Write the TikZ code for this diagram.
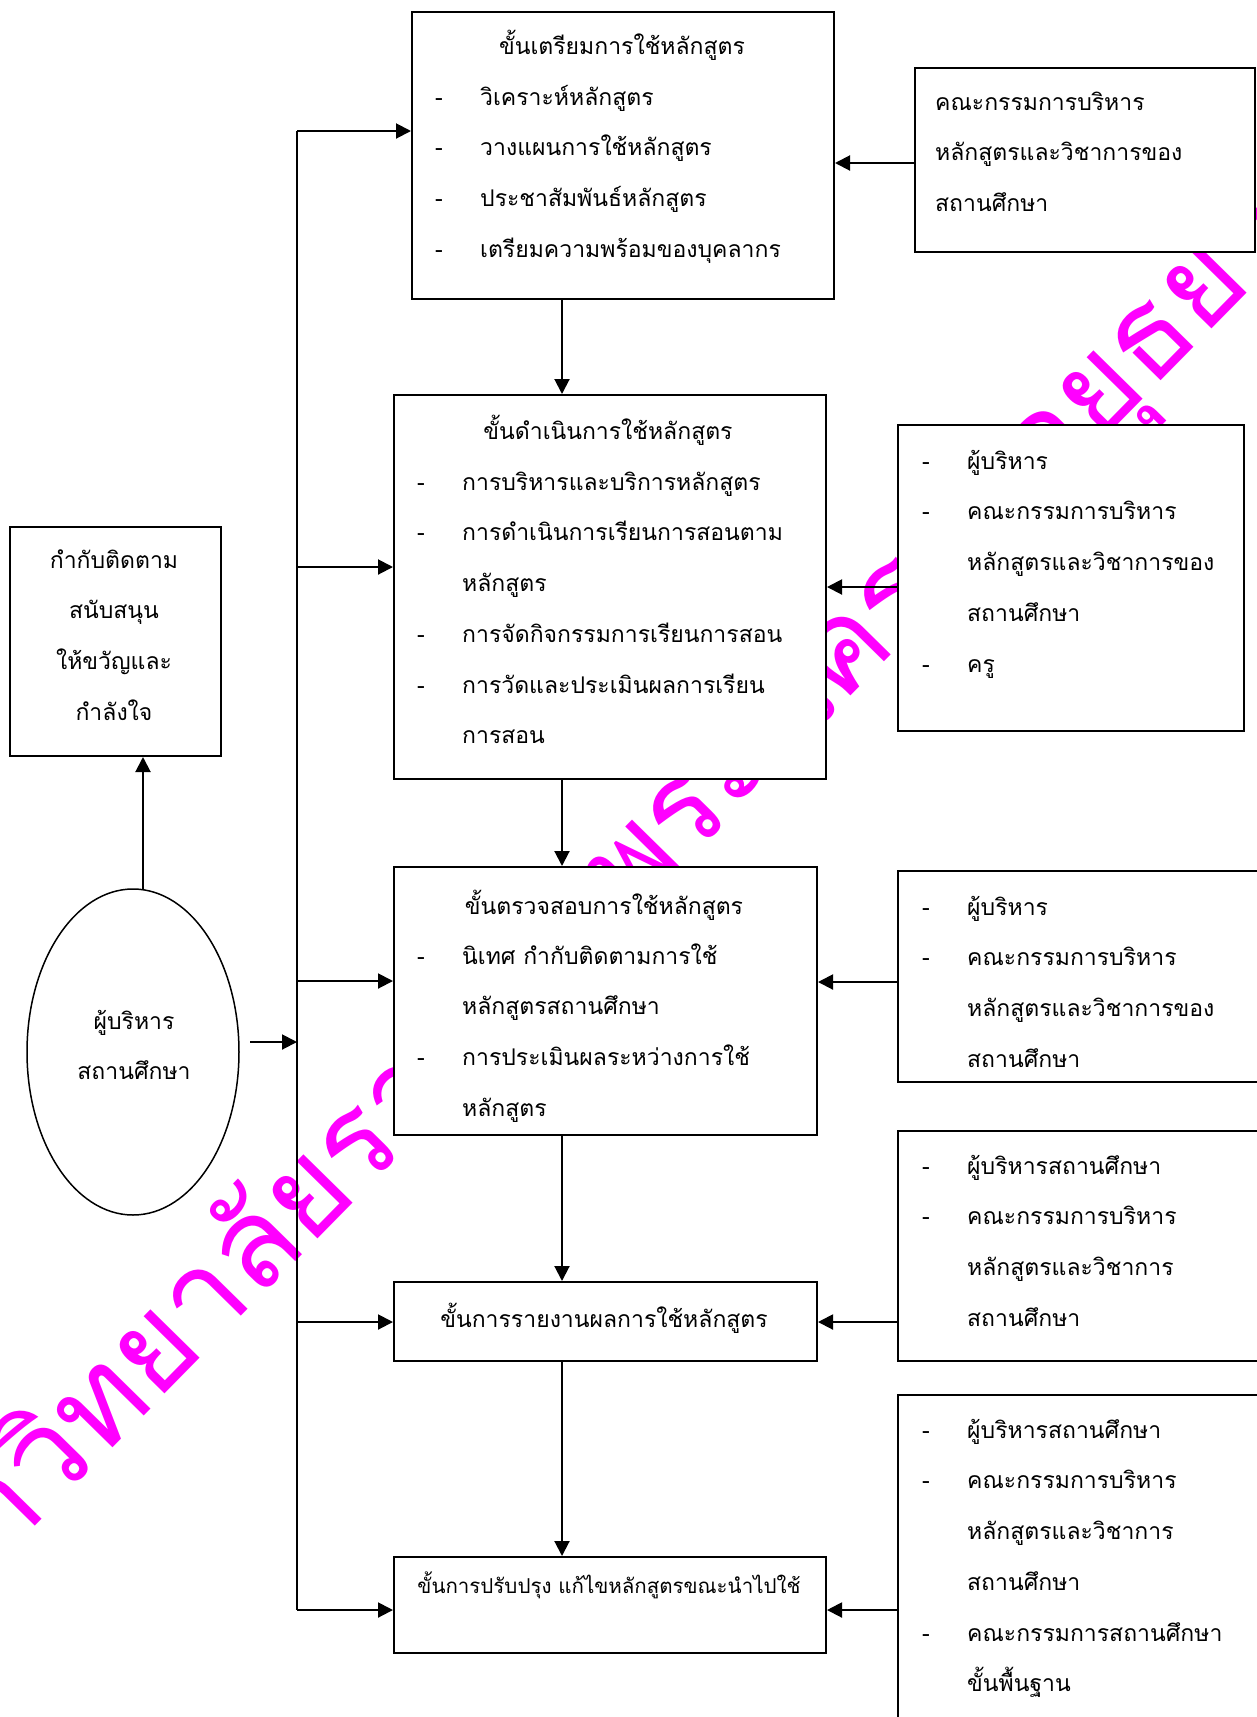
\documentclass[tikz,border=0pt]{standalone}
\usepackage{fontspec}
\newfontfamily\thai[Script=Thai]{Loma}
\usetikzlibrary{arrows.meta,shapes.geometric,calc}
\newcommand\D{\makebox[45pt][l]{-}}
\newcommand\I{\hspace*{45pt}}
\newcommand\st{\rule[-14pt]{0pt}{50pt}}
\tikzset{
  box/.style={draw, line width=2pt, fill=white, inner sep=0pt, anchor=north west},
  conn/.style={line width=2pt, -{Triangle[length=15pt,width=15pt]}},
  plain/.style={line width=2pt},
  txt/.style={font=\thai\fontsize{23}{50.7}\selectfont, inner sep=0pt, align=left, anchor=north west},
  ctxt/.style={font=\thai\fontsize{23}{50.7}\selectfont, inner sep=0pt, align=center, anchor=north},
  ttl/.style={font=\thai\fontsize{23}{50.7}\selectfont, inner sep=0pt, anchor=base},
  wm/.style={font=\thai\fontsize{124}{124}\selectfont, text=magenta, inner sep=0pt}
}
\definecolor{magenta}{RGB}{255,0,255}
\begin{document}
\begin{tikzpicture}[x=1pt,y=-1pt]
\useasboundingbox (0,0) rectangle (1257,1717);
\clip (0,0) rectangle (1257,1717);
\fill[white] (0,0) rectangle (1257,1717);
% watermark
\node[wm, rotate=45.5] (wmark) at (569,931) {มหาวิทยาลัยราชภัฏพระนครศรีอยุธยา};
% boxes
\node[box, minimum width=422pt, minimum height=287pt] (b1) at (411,11) {};
\node[box, minimum width=340pt, minimum height=184pt] (r1) at (914,67) {};
\node[box, minimum width=432pt, minimum height=384pt] (b2) at (393,394) {};
\node[box, minimum width=346pt, minimum height=306pt] (r2) at (897,424) {};
\node[box, minimum width=423pt, minimum height=268pt] (b3) at (393,866) {};
\node[box, minimum width=380pt, minimum height=211pt] (r3) at (897,870) {};
\node[box, minimum width=423pt, minimum height=79pt] (b4) at (393,1281) {};
\node[box, minimum width=380pt, minimum height=230pt] (r4) at (897,1130) {};
\node[box, minimum width=432pt, minimum height=96pt] (b5) at (393,1556) {};
\node[box, minimum width=380pt, minimum height=400pt] (r5) at (897,1394) {};
\node[box, minimum width=211pt, minimum height=229pt] (lb) at (9,526) {};
\node[draw, ellipse, line width=1.5pt, fill=white, minimum width=212pt, minimum height=326pt, inner sep=0pt] (ell) at (133,1052) {};
% texts
\node[ttl] (t1) at (622,54) {ขั้นเตรียมการใช้หลักสูตร};
\node[txt] (i1) at (435,69) {\st\D วิเคราะห์หลักสูตร\\\st\D วางแผนการใช้หลักสูตร\\\st\D ประชาสัมพันธ์หลักสูตร\\\st\D เตรียมความพร้อมของบุคลากร};
\node[ttl] (t2) at (608,439) {ขั้นดำเนินการใช้หลักสูตร};
\node[txt] (i2) at (417,454) {\st\D การบริหารและบริการหลักสูตร\\\st\D การดำเนินการเรียนการสอนตาม\\\st\I หลักสูตร\\\st\D การจัดกิจกรรมการเรียนการสอน\\\st\D การวัดและประเมินผลการเรียน\\\st\I การสอน};
\node[ttl] (t3) at (604,914) {ขั้นตรวจสอบการใช้หลักสูตร};
\node[txt] (i3) at (417,928) {\st\D นิเทศ กำกับติดตามการใช้\\\st\I หลักสูตรสถานศึกษา\\\st\D การประเมินผลระหว่างการใช้\\\st\I หลักสูตร};
\node[ttl] (t4) at (604,1327) {ขั้นการรายงานผลการใช้หลักสูตร};
\node[ttl, font=\thai\fontsize{20.5}{30}\selectfont] (t5) at (609,1593) {ขั้นการปรับปรุง แก้ไขหลักสูตรขณะนำไปใช้};
\node[txt] (x1) at (935,74) {\st คณะกรรมการบริหาร\\\st หลักสูตรและวิชาการของ\\\st สถานศึกษา};
\node[txt] (x2) at (922,433) {\st\D ผู้บริหาร\\\st\D คณะกรรมการบริหาร\\\st\I หลักสูตรและวิชาการของ\\\st\I สถานศึกษา\\\st\D ครู};
\node[txt] (x3) at (922,879) {\st\D ผู้บริหาร\\\st\D คณะกรรมการบริหาร\\\st\I หลักสูตรและวิชาการของ\\\st\I สถานศึกษา};
\node[txt] (x4) at (922,1138) {\st\D ผู้บริหารสถานศึกษา\\\st\D คณะกรรมการบริหาร\\\st\I หลักสูตรและวิชาการ\\\st\I สถานศึกษา};
\node[txt] (x5) at (922,1402) {\st\D ผู้บริหารสถานศึกษา\\\st\D คณะกรรมการบริหาร\\\st\I หลักสูตรและวิชาการ\\\st\I สถานศึกษา\\\st\D คณะกรรมการสถานศึกษา\\\st\I ขั้นพื้นฐาน};
\node[ctxt] (lt) at (114,532) {\st กำกับติดตาม\\\st สนับสนุน\\\st ให้ขวัญและ\\\st กำลังใจ};
\node[ctxt] (et) at (134,993) {\st ผู้บริหาร\\\st สถานศึกษา};
% connectors
\coordinate (v) at (562,0);
\draw[conn] (v |- b1.south) -- (v |- b2.north);
\draw[conn] (v |- b2.south) -- (v |- b3.north);
\draw[conn] (v |- b3.south) -- (v |- b4.north);
\draw[conn] (v |- b4.south) -- (v |- b5.north);
\coordinate (h1) at (0,163);
\coordinate (h2) at (0,587);
\coordinate (h3) at (0,982);
\coordinate (h4) at (0,1322);
\coordinate (h5) at (0,1610);
\draw[conn] (h1 -| r1.west) -- (h1 -| b1.east);
\draw[conn] (h2 -| r2.west) -- (h2 -| b2.east);
\draw[conn] (h3 -| r3.west) -- (h3 -| b3.east);
\draw[conn] (h4 -| r4.west) -- (h4 -| b4.east);
\draw[conn] (h5 -| r5.west) -- (h5 -| b5.east);
\coordinate (bt) at (297,131);
\coordinate (bb) at (297,1610);
\coordinate (y2) at (297,567);
\coordinate (y3) at (297,981);
\coordinate (y4) at (297,1322);
\draw[plain] (bt) -- (bb);
\draw[conn] (bt) -- (bt -| b1.west);
\draw[conn] (y2) -- (y2 -| b2.west);
\draw[conn] (y3) -- (y3 -| b3.west);
\draw[conn] (y4) -- (y4 -| b4.west);
\draw[conn] (bb) -- (bb -| b5.west);
\coordinate (ea) at (250,1042);
\draw[conn] (ea) -- (ea -| bt);
\coordinate (etop) at (143,890);
\draw[conn] (etop) -- (etop |- lb.south);
\end{tikzpicture}
\end{document}
